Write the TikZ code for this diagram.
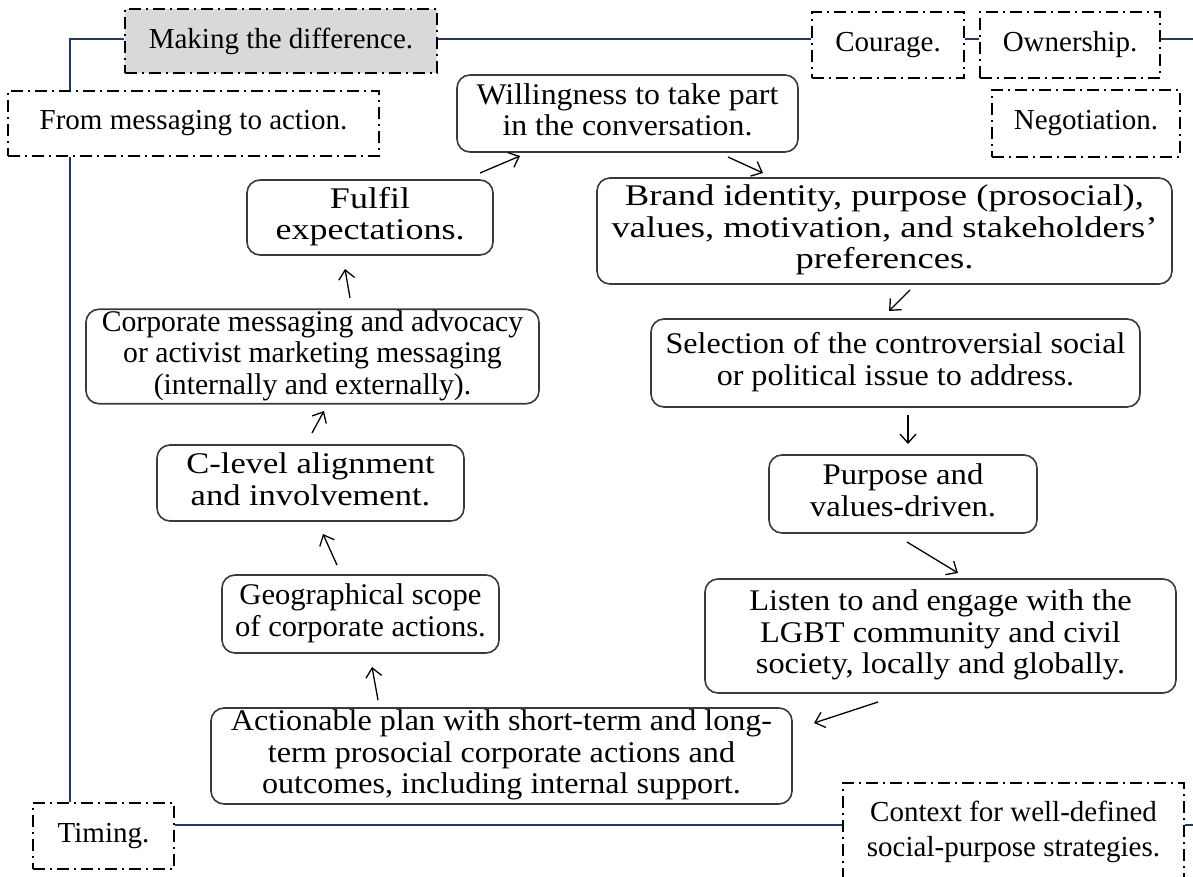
\documentclass[tikz,border=0pt]{standalone}
\usepackage{fontspec}
\usepackage{graphicx}
\setmainfont{Liberation Serif}
\usetikzlibrary{arrows.meta}

\definecolor{framenavy}{HTML}{1F3864}
\definecolor{boxgray}{HTML}{D9D9D9}
\definecolor{roundedge}{HTML}{3A3A3A}

\tikzset{
  themebox/.style={draw=black, line width=1.4pt,
    dash pattern=on 12pt off 5pt on 2pt off 5pt,
    inner sep=0pt, align=center, font=\fontsize{29}{35}\selectfont},
  stepbox/.style={draw=roundedge, line width=1.6pt, rounded corners=13pt,
    inner sep=0pt, fill=white,
    font=\fontsize{30}{31.5}\selectfont},
  frameline/.style={draw=framenavy, line width=2pt},
  flowarrow/.style={draw=black, line width=1.3pt,
    -{Straight Barb[length=9pt,width=16pt,line width=1.3pt]}},
}

% a box given by its corners (x1,y1) and (x2,y2), in pixel units
\newcommand\placebox[7]{%
  \node[#6, minimum width={(#4)-(#2)}, minimum height={(#5)-(#3)}]
    (#1) at ({((#2)+(#4))/2},{((#3)+(#5))/2}) {#7};}

% centred lines, widened by a horizontal factor
\newcommand\widelines[2]{%
  \scalebox{#1}[1]{\begin{tabular}{@{}c@{}}#2\end{tabular}}}

\begin{document}
\begin{tikzpicture}[x=1pt, y=-1pt]
\useasboundingbox (0,0) rectangle (1193,877);

% outer theme frame anchors
\coordinate (spine) at (69.5,0);
\coordinate (ytop) at (0,39);
\coordinate (ybot) at (0,825);
\coordinate (redge) at (1193,0);

% theme boxes
\placebox{mk}{125}{9}{437}{73}{themebox, fill=boxgray}{Making the difference.}
\placebox{cour}{812}{12}{964}{78}{themebox}{Courage.}
\placebox{own}{980}{12}{1160}{78}{themebox}{Ownership.}
\placebox{nego}{992}{90}{1180}{157}{themebox}{Negotiation.}
\placebox{msg}{8}{91}{379}{156}{themebox}{From messaging to action.}
\placebox{tim}{33}{803}{174}{869}{themebox}{Timing.}
\placebox{ctx}{843}{783}{1184}{880}{themebox}{Context for well-defined\\social-purpose strategies.}

% frame lines
\draw[frameline] (mk.west |- ytop) -| (spine |- msg.north);
\draw[frameline] (spine |- msg.south) -- (spine |- tim.north);
\draw[frameline] (mk.east |- ytop) -- (cour.west |- ytop);
\draw[frameline] (cour.east |- ytop) -- (own.west |- ytop);
\draw[frameline] (own.east |- ytop) -- (redge |- ytop);
\draw[frameline] (tim.east |- ybot) -- (ctx.west |- ybot);
\draw[frameline] (ctx.east |- ybot) -- (redge |- ybot);

% process steps
\placebox{will}{457}{75}{798}{152}{stepbox}{\widelines{1.06}{Willingness to take part\\in the conversation.}}
\placebox{ful}{247}{180}{493}{255}{stepbox}{\widelines{1.2}{Fulfil\\expectations.}}
\placebox{brand}{597}{178}{1172}{284}{stepbox}{\widelines{1.22}{Brand identity, purpose (prosocial),\\values, motivation, and stakeholders'\\preferences.}}
\placebox{corp}{86}{310}{539}{403}{stepbox}{\widelines{0.99}{Corporate messaging and advocacy\\or activist marketing messaging\\(internally and externally).}}
\placebox{sel}{651}{319}{1140}{407}{stepbox}{\widelines{1.07}{Selection of the controversial social\\or political issue to address.}}
\placebox{clev}{157}{445}{464}{521}{stepbox}{\widelines{1.15}{C-level alignment\\and involvement.}}
\placebox{purp}{769}{455}{1037}{533}{stepbox}{\widelines{1.09}{Purpose and\\values-driven.}}
\placebox{geo}{222}{575}{499}{653}{stepbox}{\widelines{1.02}{Geographical scope\\of corporate actions.}}
\placebox{listen}{705}{579}{1176}{693}{stepbox}{\widelines{1.08}{Listen to and engage with the\\LGBT community and civil\\society, locally and globally.}}
\placebox{act}{211}{708}{792}{804}{stepbox}{\widelines{1.07}{Actionable plan with short-term and long-\\term prosocial corporate actions and\\outcomes, including internal support.}}

% flow arrows
\coordinate (a1s) at (480,173);  \coordinate (a1e) at (520,156);
\coordinate (a2s) at (728,157);  \coordinate (a2e) at (763,173);
\coordinate (a3s) at (910,290);  \coordinate (a3e) at (889,311);
\coordinate (a4s) at (908,415);  \coordinate (a4e) at (908,444);
\coordinate (a5s) at (907,542);  \coordinate (a5e) at (958,573);
\coordinate (a6s) at (878,702);  \coordinate (a6e) at (814,723);
\coordinate (a7s) at (378,700);  \coordinate (a7e) at (372,667);
\coordinate (a8s) at (337,565);  \coordinate (a8e) at (323,534);
\coordinate (a9s) at (312,433);  \coordinate (a9e) at (324,411);
\coordinate (a10s) at (350,298); \coordinate (a10e) at (345,269);

\draw[flowarrow] (a1s) -- (a1e);
\draw[flowarrow] (a2s) -- (a2e);
\draw[flowarrow] (a3s) -- (a3e);
\draw[flowarrow] (a4s) -- (a4e);
\draw[flowarrow] (a5s) -- (a5e);
\draw[flowarrow] (a6s) -- (a6e);
\draw[flowarrow] (a7s) -- (a7e);
\draw[flowarrow] (a8s) -- (a8e);
\draw[flowarrow] (a9s) -- (a9e);
\draw[flowarrow] (a10s) -- (a10e);
\end{tikzpicture}
\end{document}
